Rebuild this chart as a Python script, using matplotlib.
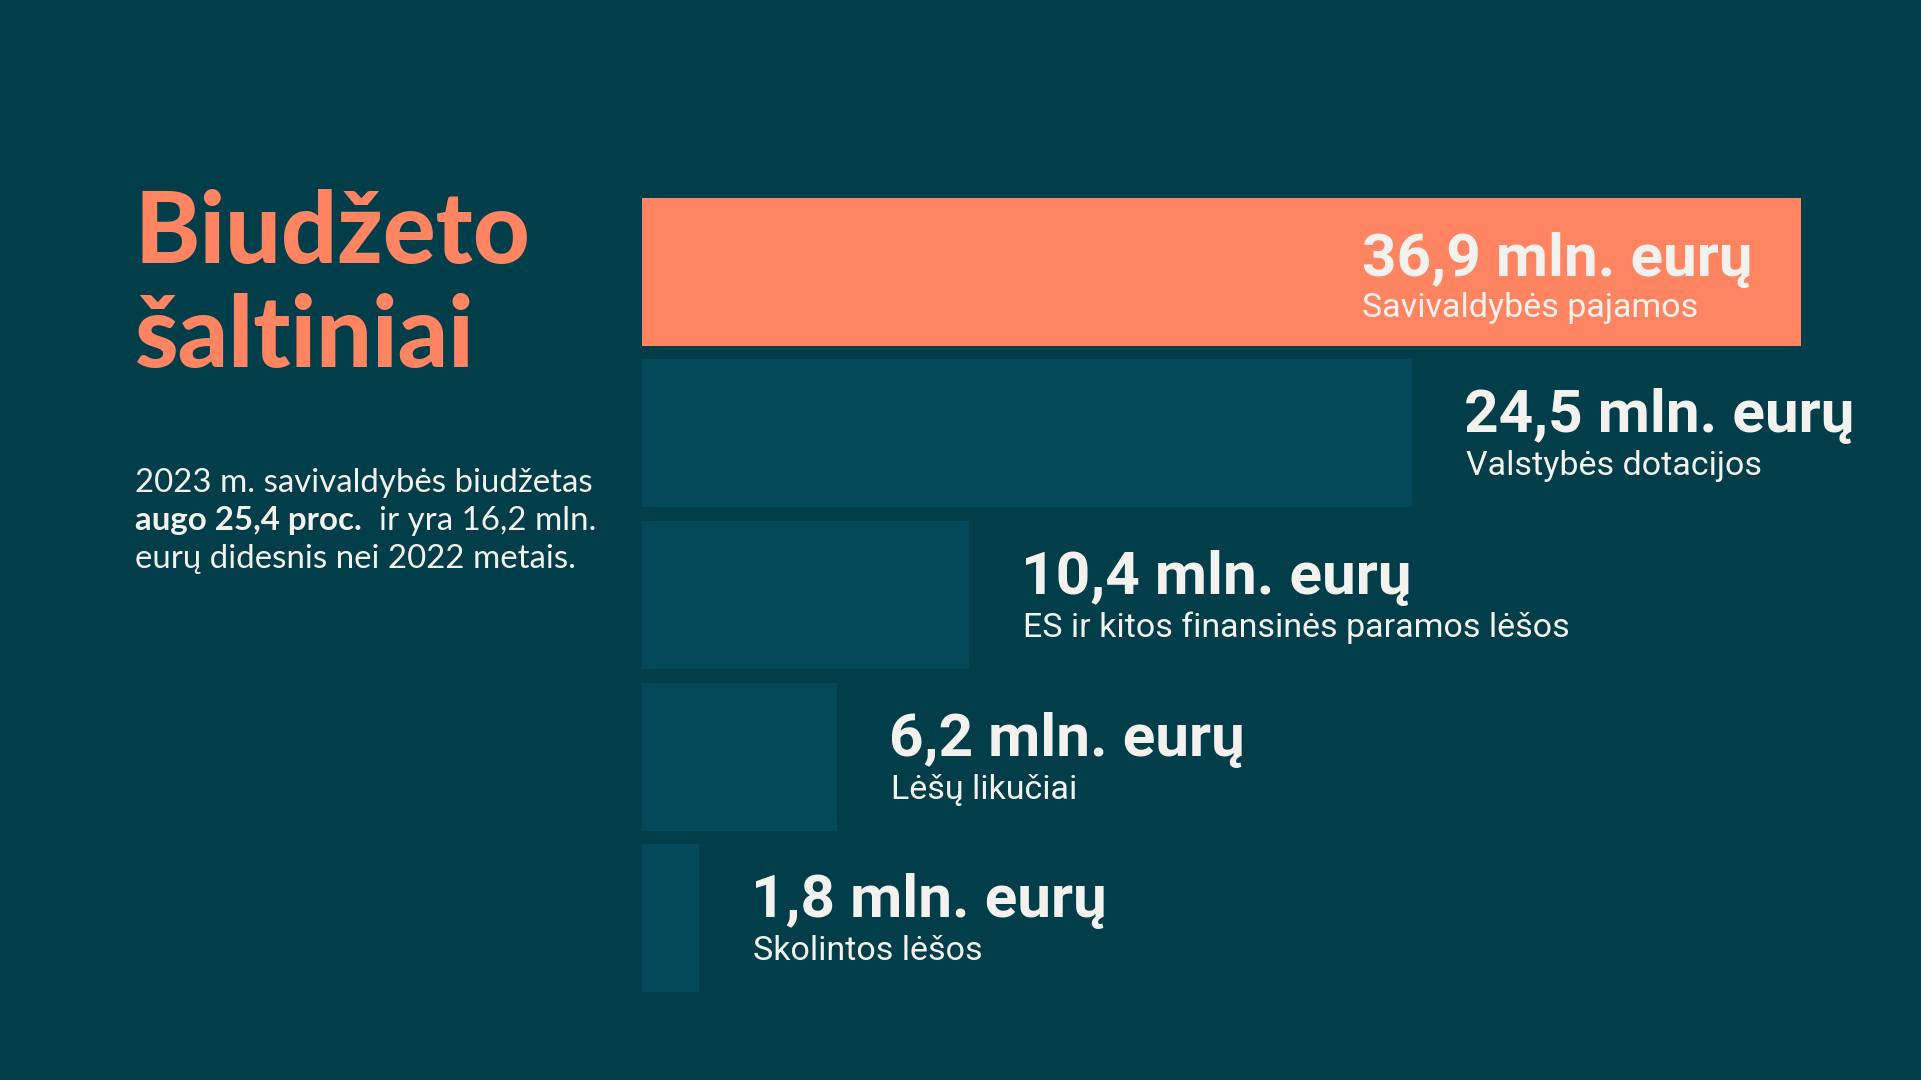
import numpy as np
import matplotlib.pyplot as plt

# data
values = [36.9, 24.5, 10.4, 6.2, 1.8]
value_labels = ["36,9 mln. eurų", "24,5 mln. eurų", "10,4 mln. eurų", "6,2 mln. eurų", "1,8 mln. eurų"]
categories = ["Savivaldybės pajamos", "Valstybės dotacijos", "ES ir kitos finansinės paramos lėšos",
              "Lėšų likučiai", "Skolintos lėšos"]
highlight = 0  # index of the orange bar

title_lines = ["Biudžeto", "šaltiniai"]
note_line1 = "2023 m. savivaldybės biudžetas"
note_bold = "augo 25,4 proc."
note_rest = "  ir yra 16,2 mln."
note_line3 = "eurų didesnis nei 2022 metais."

# colours
bg = "#023d4a"
bar_col = "#03495a"
orange = "#ff8461"
txt_col = "#f3f2ee"

W, H = 1921, 1080
fig = plt.figure(figsize=(W / 100, H / 100), dpi=100, facecolor=bg)

def px(x, y):
    # pixel position (from top left) to figure fraction
    return x / W, 1 - y / H

# axes starts at the bar origin and runs to the right edge
x0, x_end = 642, 1801
ax = fig.add_axes([x0 / W, 0, (W - x0) / W, 1])
ax.set_facecolor(bg)
ax.set_xlim(0, values[0] * (W - x0) / (x_end - x0))
pitch = 161.5   # px between bar centres
c0 = 272        # px from top to the first bar centre
ax.set_ylim((H - c0) / pitch, -c0 / pitch)
ax.axis("off")

y = np.arange(len(values))
colors = [orange if i == highlight else bar_col for i in y]
ax.barh(y, values, height=148 / pitch, color=colors)

val_kw = dict(fontsize=43.5, fontweight="bold", family="Roboto", color=txt_col, va="baseline")
cat_kw = dict(fontsize=24.5, fontweight="normal", family="Roboto", color=txt_col, va="baseline")

for i, v in enumerate(values):
    if i == highlight:
        # label sits inside the bar, right aligned
        tx = ax.annotate(value_labels[i], xy=(v, i), xytext=(-49, -4), textcoords="offset pixels",
                         ha="right", **val_kw)
        fig.canvas.draw()
        left = tx.get_window_extent().x0 - ax.transData.transform((v, i))[0]
        ax.annotate(categories[i], xy=(v, i), xytext=(left + 1, -45), textcoords="offset pixels",
                    ha="left", **cat_kw)
    else:
        ax.annotate(value_labels[i], xy=(v, i), xytext=(52, 1), textcoords="offset pixels",
                    ha="left", **val_kw)
        ax.annotate(categories[i], xy=(v, i), xytext=(54, -42), textcoords="offset pixels",
                    ha="left", **cat_kw)

# title on the left
for line, yy in zip(title_lines, [263, 367]):
    fig.text(*px(135, yy), line, fontsize=71, fontweight="black", family="Lato",
             color=orange, va="baseline", ha="left")

# note paragraph
note_kw = dict(fontsize=23.8, family="Lato", color=txt_col, va="baseline")
fig.text(*px(135, 492), note_line1, **note_kw)
tb = fig.text(*px(135, 530), note_bold, fontweight="bold", **note_kw)
fig.canvas.draw()
bb = tb.get_window_extent()
fig.text(bb.x1 / W, 1 - 530 / H, note_rest, **note_kw)
fig.text(*px(135, 568), note_line3, **note_kw)

fig.savefig("out.png", dpi=100, facecolor=bg)
